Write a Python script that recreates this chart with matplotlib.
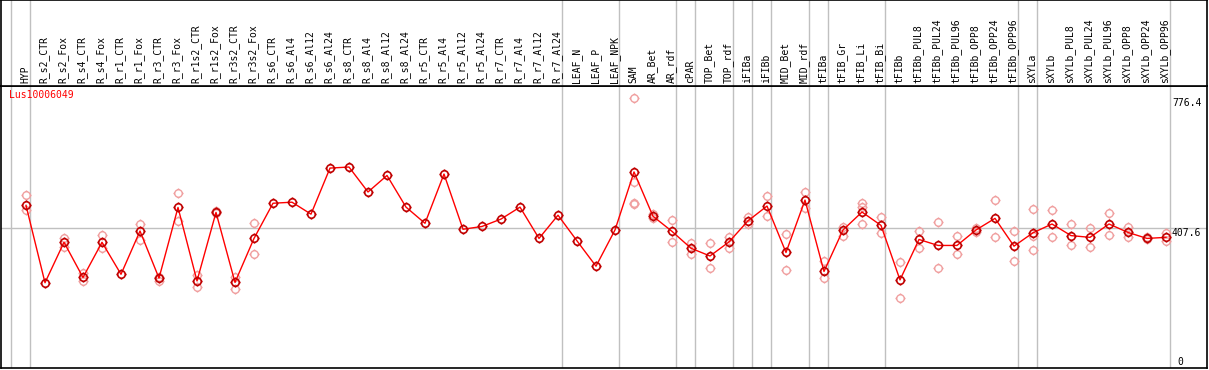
import matplotlib
matplotlib.use("Agg")
import matplotlib.pyplot as plt
from matplotlib.path import Path

# column names
samples = [
    "HYP", "R_s2_CTR", "R_s2_Fox", "R_s4_CTR", "R_s4_Fox", "R_r1_CTR", "R_r1_Fox",
    "R_r3_CTR", "R_r3_Fox", "R_r1s2_CTR", "R_r1s2_Fox", "R_r3s2_CTR", "R_r3s2_Fox",
    "R_s6_CTR", "R_s6_Al4", "R_s6_Al12", "R_s6_Al24", "R_s8_CTR", "R_s8_Al4",
    "R_s8_Al12", "R_s8_Al24", "R_r5_CTR", "R_r5_Al4", "R_r5_Al12", "R_r5_Al24",
    "R_r7_CTR", "R_r7_Al4", "R_r7_Al12", "R_r7_Al24", "LEAF_N", "LEAF_P", "LEAF_NPK",
    "SAM", "AR_Bet", "AR_rdf", "cPAR", "TOP_Bet", "TOP_rdf", "iFIBa", "iFIBb",
    "MID_Bet", "MID_rdf", "tFIBa", "tFIB_Gr", "tFIB_Li", "tFIB_Bi", "tFIBb",
    "tFIBb_PUL8", "tFIBb_PUL24", "tFIBb_PUL96", "tFIBb_OPP8", "tFIBb_OPP24", "tFIBb_OPP96",
    "sXYLa", "sXYLb", "sXYLb_PUL8", "sXYLb_PUL24", "sXYLb_PUL96", "sXYLb_OPP8",
    "sXYLb_OPP24", "sXYLb_OPP96",
]

# mean expression per column
means = [
    472, 252, 367, 267, 367, 276, 399, 265, 466, 257, 452, 253, 378,
    478, 481, 447, 578, 581, 510, 557, 467, 421, 561, 404, 412,
    433, 467, 378, 444, 371, 299, 402,
    567, 441, 398, 350, 328, 368, 428, 470, 338, 487,
    284, 402, 453, 415, 260, 375, 358, 358, 402, 435, 356,
    394, 419, 386, 381, 419, 395, 378, 381,
]

# individual replicates
replicates = [
    [501, 459], [], [380, 354], [279, 257], [388, 350], [], [419, 374],
    [258, 269], [506, 428], [274, 241], [457, 450], [269, 234], [421, 334],
    [], [], [], [], [], [], [], [], [], [], [], [],
    [], [], [], [], [], [], [],
    [776.4, 539, 478, 475], [447, 435], [430, 367], [366, 334], [364, 293],
    [381, 352], [440, 418], [499, 442], [391, 287], [510, 464],
    [313, 266], [411, 386], [480, 468, 418], [439, 392], [310, 208],
    [399, 352], [424, 293], [384, 333], [407, 397], [486, 381], [398, 313],
    [462, 386, 344], [459, 381], [418, 359], [408, 353], [449, 388],
    [410, 383], [381, 375], [392, 371],
]

separators = [-1, 0, 28, 31, 34, 35, 37, 38, 39, 41, 42, 45, 52, 53, 60]
max_val = 776.4
ref_val = 407.6
gene = "Lus10006049"

# circle with four little ticks
circ = Path.unit_circle()
ticks = Path([(0, 1.0), (0, 1.35), (0, -1.0), (0, -1.35), (1.0, 0), (1.35, 0), (-1.0, 0), (-1.35, 0)],
             [Path.MOVETO, Path.LINETO] * 4)
sun = Path.make_compound_path(circ, ticks)

W, H = 1209, 370
fig = plt.figure(figsize=(W / 100, H / 100), dpi=100)
mono = "DejaVu Sans Mono"

ax = fig.add_axes([1 / W, 2 / H, 1206 / W, 282 / H])
ax_lab = fig.add_axes([1 / W, 284 / H, 1206 / W, 86 / H])

xlim = (-25 / 19, 1181 / 19)
for a in (ax, ax_lab):
    a.set_xlim(*xlim)
    a.set_xticks([])
    a.set_yticks([])
    for s in a.spines.values():
        s.set_color("black")
        s.set_linewidth(1.2)
    for s in separators:
        a.axvline(s + 0.22, color="#c0c0c0", lw=1, zorder=0)

ax.set_ylim(9.5, 811.4)
ax_lab.set_ylim(0, 1)

ax.axhline(ref_val, color="#c0c0c0", lw=1, zorder=0)

# replicates
for i, reps in enumerate(replicates):
    if reps:
        ax.plot([i] * len(reps), reps, linestyle="none", marker=sun, ms=7.3,
                mfc="none", mec="#f0a0a0", mew=1, zorder=2)

xs = list(range(len(samples)))
ax.plot(xs, means, color="#ff0000", lw=1, zorder=3)
ax.plot(xs, means, linestyle="none", marker=sun, ms=7.3, mfc="none",
        mec="#c00000", mew=1.2, zorder=4)

# sample labels
for i, name in enumerate(samples):
    ax_lab.text(i - 0.05, 0.035, name, rotation=90, ha="center", va="bottom",
                fontsize=7, family=mono, color="black")

ax.text(-17 / 19, 0.985, gene, transform=ax.get_xaxis_transform(),
        ha="left", va="top", fontsize=7, family=mono, color="red")

xr = (1172 - 26) / 19
ax.text(xr, max_val, "776.4", ha="left", va="top", fontsize=7, family=mono)
ax.text(xr, ref_val, "407.6", ha="left", va="top", fontsize=7, family=mono)
ax.text((1177 - 26) / 19, 0.005, "0", transform=ax.get_xaxis_transform(),
        ha="left", va="bottom", fontsize=7, family=mono)

fig.savefig("out.png", dpi=100)
